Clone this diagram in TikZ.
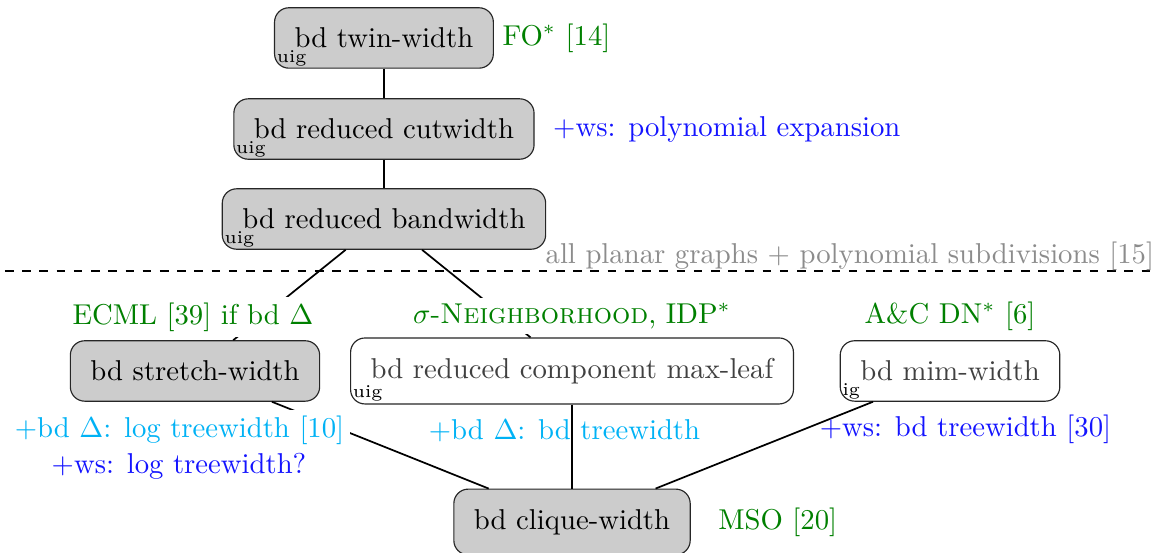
\documentclass[tikz,border=0pt]{standalone}
\usepackage{amsmath,amssymb}
\usepackage{tikz}
\usetikzlibrary{positioning,calc}
\usepackage{xcolor}
\definecolor{resgreen}{RGB}{0,128,0}
\definecolor{resblue}{RGB}{20,20,255}
\definecolor{rescyan}{RGB}{0,178,245}

\begin{document}
\begin{tikzpicture}[
    param/.style={draw=black!85, rounded corners=5pt, inner sep=7pt, thin},
    bounded/.style={param, fill=black!20},
    open/.style={param, fill=white, text=black!75},
    tag/.style={font=\fontsize{6.3}{7}\selectfont, inner sep=0.8pt, anchor=south west},
    edge/.style={semithick},
    result/.style={inner sep=2pt},
    blocking/.style={result, fill=white},
]
    \useasboundingbox (0,0) rectangle (14.23,-6.76);

    % Parameters, top to bottom
    \node[bounded] (twin) at (4.702,-0.465) {bd twin-width};
    \node[bounded] (cut) at (4.702,-1.580) {bd reduced cutwidth};
    \node[bounded] (band) at (4.702,-2.682) {bd reduced bandwidth};
    \node[bounded] (stretch) at (2.388,-4.543) {bd stretch-width};
    \node[open] (maxleaf) at (7.005,-4.543) {bd reduced component max-leaf};
    \node[open] (mim) at (11.634,-4.543) {bd mim-width};
    \node[bounded] (clique) at (7.005,-6.392) {bd clique-width};

    % Graph classes the parameter is bounded on
    \node[tag] (twintag) at (twin.south west) {uig};
    \node[tag] (cuttag) at (cut.south west) {uig};
    \node[tag] (bandtag) at (band.south west) {uig};
    \node[tag] (maxleaftag) at (maxleaf.south west) {uig};
    \node[tag] (mimtag) at (mim.south west) {ig};

    % Hierarchy
    \draw[edge] (twin) -- (cut);
    \draw[edge] (cut) -- (band);
    \draw[edge] (band) -- (stretch);
    \draw[edge] (band) -- (maxleaf);
    \draw[edge] (stretch) -- (clique);
    \draw[edge] (maxleaf) -- (clique);
    \draw[edge] (mim) -- (clique);

    % Hardness line
    \coordinate (cutl) at (0.061,-3.319);
    \coordinate (cutr) at (14.168,-3.319);
    \draw[dashed, thin] (cutl) -- (cutr);
    \node[anchor=east, inner sep=1pt, text=black!45] (planar) at (14.175,-3.135)
        {all planar graphs + polynomial subdivisions [15]};

    % Tractability results
    \node[result, text=resgreen, anchor=west] (fo) at ($(twin.east)+(0.03,0)$) {FO$^*$ [14]};
    \node[result, text=resblue, anchor=west] (polyexp) at ($(cut.east)+(0.15,0)$) {+ws: polynomial expansion};
    \node[blocking, text=resgreen] (ecml) at (2.363,-3.880) {ECML [39] if bd $\Delta$};
    \node[blocking, text=resgreen] (nbh) at (7.005,-3.870) {$\sigma$-\textsc{Neighborhood}, IDP$^*$};
    \node[blocking, text=resgreen] (acdn) at (11.634,-3.870) {A\&C DN$^*$ [6]};
    \node[blocking, text=rescyan] (logtw) at (2.198,-5.266) {+bd $\Delta$: log treewidth [10]};
    \node[result, text=resblue] (wslogtw) at (2.192,-5.707) {+ws: log treewidth?};
    \node[result, text=rescyan] (bdtw) at (6.913,-5.278) {+bd $\Delta$: bd treewidth};
    \node[result, text=resblue] (wsbdtw) at (11.823,-5.253) {+ws: bd treewidth [30]};
    \node[result, text=resgreen, anchor=west] (mso) at ($(clique.east)+(0.26,0)$) {MSO [20]};
\end{tikzpicture}
\end{document}
